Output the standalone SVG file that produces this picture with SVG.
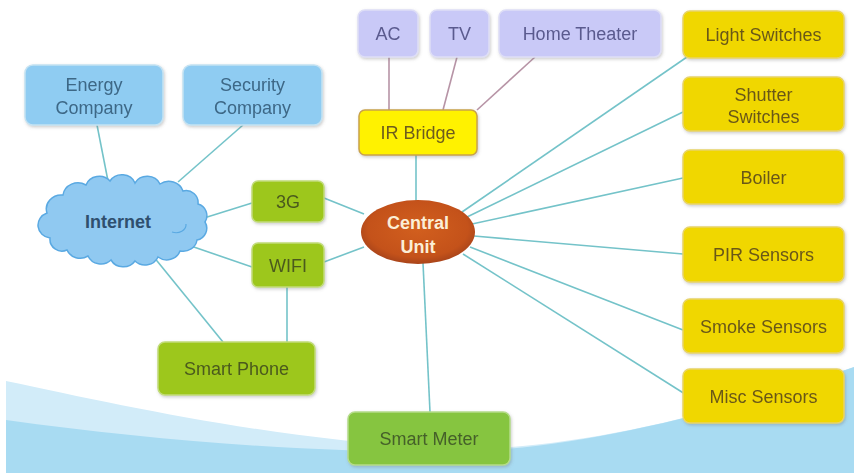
<svg xmlns="http://www.w3.org/2000/svg" width="854" height="473" viewBox="0 0 854 473">
<defs>
<filter id="sh" x="-10%" y="-15%" width="120%" height="135%">
<feDropShadow dx="1" dy="1.5" stdDeviation="1.5" flood-color="#707070" flood-opacity="0.35"/>
</filter>
<radialGradient id="cu" cx="50%" cy="45%" r="55%">
<stop offset="0" stop-color="#d25f1e"/>
<stop offset="0.8" stop-color="#c4521a"/>
<stop offset="1" stop-color="#a9441a"/>
</radialGradient>
<style>
text{font-family:"Liberation Sans",Arial,sans-serif;font-size:18px;text-anchor:middle}
.blue rect{fill:#8fccf2;stroke:#c4e2f2;stroke-width:1.5}
.blue text{fill:#3d6786}
.lav rect{fill:#c9c9f7;stroke:#dedef6;stroke-width:1.5}
.lav text{fill:#5a5a8e}
.yel rect{fill:#f0d700;stroke:#e8d468;stroke-width:1.5}
.yel text{fill:#6a5818}
.grn rect{fill:#9dc71f;stroke:#c2dc7a;stroke-width:1.5}
.grn text{fill:#4b5a1c}
.grn2 rect{fill:#86c53f;stroke:#b5dc8a;stroke-width:1.5}
.grn2 text{fill:#45602a}
.con line{stroke:#74c3c9;stroke-width:1.6}
.ir line{stroke:#b794a6;stroke-width:1.6}
</style>
</defs>
<rect width="854" height="473" fill="#ffffff"/>
<path d="M6,381 C120,405 260,437 440,449 C560,452 700,420 854,367 L854,473 L6,473 Z" fill="#d2ecf9"/>
<path d="M6,420 C150,440 300,452 440,452 C560,452 700,420 854,367 L854,473 L6,473 Z" fill="#a8dbf2"/>

<g id="connectors">
<g class="con">
<line x1="97" y1="125" x2="108" y2="181"/>
<line x1="243" y1="125" x2="178" y2="182"/>
<line x1="204" y1="218" x2="252" y2="203"/>
<line x1="188" y1="245" x2="252" y2="267"/>
<line x1="153" y1="256" x2="223" y2="342"/>
<line x1="287" y1="287" x2="287" y2="342"/>
<line x1="324" y1="198" x2="364" y2="214"/>
<line x1="324" y1="262" x2="364" y2="247"/>
<line x1="416" y1="155" x2="416" y2="201"/>
<line x1="423" y1="263" x2="430" y2="412"/>
<line x1="462" y1="212" x2="687" y2="57"/>
<line x1="467" y1="217" x2="683" y2="112"/>
<line x1="472" y1="224" x2="683" y2="178"/>
<line x1="474" y1="236" x2="683" y2="254"/>
<line x1="470" y1="247" x2="683" y2="330"/>
<line x1="463" y1="254" x2="685" y2="394"/>
</g>
<g class="ir">
<line x1="389" y1="57" x2="389" y2="110"/>
<line x1="457" y1="57" x2="443" y2="110"/>
<line x1="535" y1="57" x2="477" y2="110"/>
</g>
</g>

<g id="energy" class="blue" filter="url(#sh)"><rect x="25" y="65" width="138" height="60" rx="8"/><text x="94" y="91">Energy</text><text x="94" y="114">Company</text></g>
<g id="security" class="blue" filter="url(#sh)"><rect x="183" y="65" width="139" height="60" rx="8"/><text x="252.5" y="91">Security</text><text x="252.5" y="114">Company</text></g>

<g id="internet">
<path d="M50,238 A14,13 0 0 1 47,213 A15,14 0 0 1 63,195 A15,14 0 0 1 86,185 A14,13 0 0 1 110,181 A14,13 0 0 1 135,183 A14,13 0 0 1 160,184 A15,14 0 0 1 183,191 A12,12 0 0 1 198,204 A12,12 0 0 1 205,222 A12,12 0 0 1 197,240 A14,13 0 0 1 180,251 A14,13 0 0 1 158,257 A14,13 0 0 1 135,261 A14,13 0 0 1 111,260 A14,13 0 0 1 88,256 A14,13 0 0 1 67,250 A12,12 0 0 1 50,238 Z" fill="#90c9f1" stroke="#5aa9e2" stroke-width="1.5"/>
<path d="M172,232 A10,8 0 0 0 186,224" fill="none" stroke="#5aa9e2" stroke-width="1.2"/>
<text x="118" y="228" style="font-weight:bold;font-size:18px;fill:#2f4f6e">Internet</text>
</g>

<g id="ac" class="lav" filter="url(#sh)"><rect x="358" y="10" width="60" height="47" rx="7"/><text x="388" y="40">AC</text></g>
<g id="tv" class="lav" filter="url(#sh)"><rect x="430" y="10" width="59" height="47" rx="7"/><text x="459.5" y="40">TV</text></g>
<g id="hometheater" class="lav" filter="url(#sh)"><rect x="499" y="10" width="162" height="47" rx="7"/><text x="580" y="40">Home Theater</text></g>

<g id="irbridge" filter="url(#sh)"><rect x="359" y="110" width="118" height="45" rx="6" fill="#fff200" stroke="#c9a24a" stroke-width="1.5"/><text x="418" y="139" fill="#6d5c1c">IR Bridge</text></g>

<g id="g3" class="grn" filter="url(#sh)"><rect x="252" y="181" width="72" height="41" rx="6"/><text x="288" y="208">3G</text></g>
<g id="wifi" class="grn" filter="url(#sh)"><rect x="252" y="243" width="72" height="44" rx="6"/><text x="288" y="271.5">WIFI</text></g>
<g id="smartphone" class="grn" filter="url(#sh)"><rect x="158" y="342" width="157" height="53" rx="7"/><text x="236.5" y="375">Smart Phone</text></g>
<g id="smartmeter" class="grn2" filter="url(#sh)"><rect x="348" y="412" width="162" height="53" rx="7"/><text x="429" y="445">Smart Meter</text></g>

<g id="central"><ellipse cx="418" cy="232" rx="57" ry="32" fill="url(#cu)"/><text x="418" y="229" style="font-weight:bold;fill:#fbeed6">Central</text><text x="418" y="253" style="font-weight:bold;fill:#fbeed6">Unit</text></g>

<g id="light" class="yel" filter="url(#sh)"><rect x="683" y="11" width="161" height="47" rx="7"/><text x="763.5" y="41">Light Switches</text></g>
<g id="shutter" class="yel" filter="url(#sh)"><rect x="683" y="77" width="161" height="54" rx="7"/><text x="763.5" y="101">Shutter</text><text x="763.5" y="123">Switches</text></g>
<g id="boiler" class="yel" filter="url(#sh)"><rect x="683" y="150" width="161" height="54" rx="7"/><text x="763.5" y="183.5">Boiler</text></g>
<g id="pir" class="yel" filter="url(#sh)"><rect x="683" y="227" width="161" height="55" rx="7"/><text x="763.5" y="261">PIR Sensors</text></g>
<g id="smoke" class="yel" filter="url(#sh)"><rect x="683" y="299" width="161" height="54" rx="7"/><text x="763.5" y="332.5">Smoke Sensors</text></g>
<g id="misc" class="yel" filter="url(#sh)"><rect x="683" y="369" width="161" height="54" rx="7"/><text x="763.5" y="402.5">Misc Sensors</text></g>
</svg>
